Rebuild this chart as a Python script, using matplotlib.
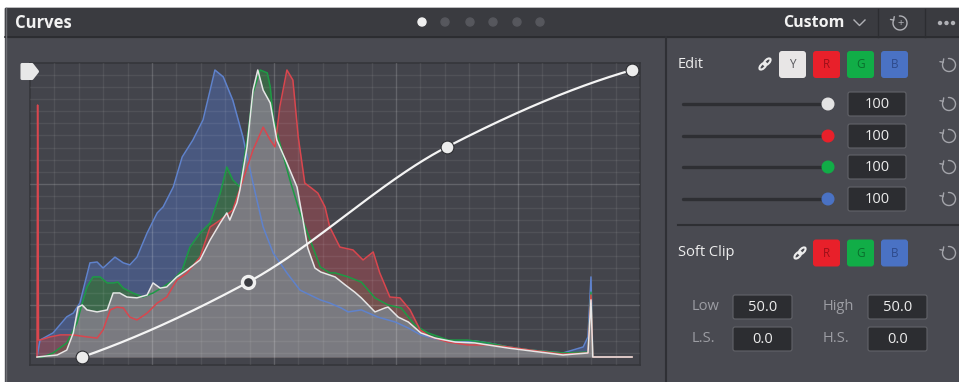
import numpy as np
import matplotlib.pyplot as plt
from matplotlib.patches import Rectangle, FancyBboxPatch, Circle, Polygon, Ellipse

plt.rcParams['font.family'] = ['Open Sans', 'DejaVu Sans']

W, H = 959, 382

# histogram traces: input level (%) and height (% of channel peak)
blue_x = [0.0, 0.5, 2.7, 5.0, 6.1, 7.2, 8.9, 10.1, 11.1, 13.1, 14.5, 15.6, 16.8, 18.5, 20.2,
          21.2, 22.9, 24.4, 26.2, 27.9, 29.1, 29.9, 31.3, 32.9, 34.6, 36.3, 38.0, 39.7, 42.0,
          44.2, 47.6, 49.2, 51.1, 52.3, 54.5, 57.3, 60.2, 62.4, 64.5, 66.9, 70.8, 73.6, 75.8,
          79.2, 82.9, 88.4, 91.8, 92.6, 93.1, 93.4, 100.0]
blue_h = [0.0, 5.9, 8.4, 14.0, 15.3, 18.8, 32.8, 33.1, 31.0, 34.8, 32.8, 32.1, 34.8, 43.2, 50.2,
          52.3, 59.2, 69.7, 75.6, 82.6, 93.0, 100.0, 97.6, 89.5, 76.7, 60.6, 45.3, 36.2, 29.3,
          23.3, 19.9, 18.8, 17.1, 15.7, 16.4, 13.9, 12.2, 10.1, 7.7, 6.3, 5.2, 5.6, 4.9,
          3.5, 2.4, 1.4, 3.5, 7.0, 27.9, 0.0, 0.0]

green_x = [0.0, 1.0, 2.7, 5.0, 6.7, 7.6, 8.4, 9.4, 10.6, 11.8, 12.8, 13.6, 14.5, 16.1, 17.8,
           19.5, 21.2, 22.9, 24.4, 25.7, 27.4, 29.1, 30.8, 31.9, 32.9, 34.1, 35.3, 36.3, 37.5,
           38.7, 39.2, 39.7, 40.8, 42.5, 44.2, 45.9, 47.6, 49.2, 50.1, 52.3, 54.5, 56.8, 59.0,
           61.2, 63.5, 65.7, 69.1, 72.4, 75.8, 79.2, 82.9, 88.4, 92.6, 93.1, 93.4, 100.0]
green_h = [0.0, 0.0, 1.4, 4.9, 11.8, 18.8, 24.4, 27.9, 27.9, 25.8, 25.8, 26.1, 24.0, 22.3, 20.9,
           22.3, 24.4, 26.8, 30.3, 38.3, 43.2, 46.7, 57.1, 66.2, 61.7, 59.2, 75.6, 92.0, 100.0,
           99.0, 94.1, 83.6, 74.6, 61.7, 50.2, 40.8, 31.4, 29.3, 29.3, 27.9, 26.1, 20.6, 18.1,
           17.1, 11.1, 8.4, 5.9, 5.9, 4.9, 3.5, 2.4, 1.4, 1.7, 22.6, 0.0, 0.0]

red_x = [0.0, 0.1, 0.25, 0.5, 2.2, 3.9, 6.1, 8.4, 10.1, 11.1, 12.3, 13.4, 14.5, 15.6, 16.8,
         18.5, 20.2, 21.8, 23.5, 25.2, 27.4, 29.1, 30.8, 32.9, 34.6, 36.3, 38.0, 39.2, 40.0,
         40.8, 42.0, 43.0, 43.9, 45.0, 46.1, 47.2, 48.4, 49.2, 50.9, 53.1, 54.8, 56.5, 57.6,
         59.3, 61.0, 62.7, 64.4, 66.1, 69.1, 72.4, 75.8, 79.2, 82.9, 88.4, 92.6, 93.1, 93.4, 100.0]
red_h = [0.0, 87.8, 5.9, 5.9, 7.0, 7.7, 7.7, 7.0, 6.6, 9.4, 16.4, 17.4, 17.1, 13.9, 12.9,
         15.3, 18.8, 20.9, 26.8, 29.3, 34.8, 45.3, 47.7, 51.2, 61.7, 72.1, 80.1, 75.6, 73.2,
         87.1, 100.0, 96.5, 76.7, 60.6, 58.9, 57.1, 52.3, 45.3, 38.3, 37.3, 33.8, 36.6, 29.3,
         20.9, 20.6, 16.4, 9.4, 7.0, 5.2, 4.2, 4.2, 3.5, 2.4, 1.0, 1.4, 21.6, 0.0, 0.0]

luma_x = [0.0, 3.4, 5.0, 6.1, 6.9, 7.6, 8.4, 10.1, 11.8, 12.8, 13.9, 15.1, 16.8, 18.5, 19.5,
          20.7, 21.8, 23.5, 25.2, 27.4, 29.1, 30.8, 31.9, 32.4, 33.6, 34.1, 35.3, 36.3, 37.1,
          38.0, 39.2, 40.3, 42.0, 43.7, 44.7, 45.5, 46.7, 47.7, 50.1, 51.8, 53.4, 54.5, 56.8,
          58.5, 59.0, 60.7, 62.4, 64.5, 66.9, 70.3, 73.6, 79.2, 88.4, 92.6, 93.1, 93.4, 100.0]
luma_h = [0.0, 0.7, 2.4, 8.4, 17.4, 18.1, 16.4, 15.7, 16.4, 22.3, 22.3, 20.9, 20.6, 21.6, 25.8,
          24.0, 24.4, 27.9, 30.3, 33.8, 40.8, 46.7, 50.2, 47.7, 53.7, 58.2, 73.2, 93.0, 100.0,
          93.0, 88.5, 75.6, 67.6, 59.2, 47.7, 38.0, 31.0, 29.6, 27.9, 25.1, 22.6, 20.6, 15.7,
          17.1, 17.4, 13.9, 12.2, 8.4, 6.6, 5.2, 4.9, 3.1, 0.7, 1.4, 19.9, 0.0, 0.0]

# curve control points (input %, output %)
curve_in = [7.6, 35.5, 68.9, 100.0]
curve_out = [0.0, 26.1, 73.2, 100.0]
selected_point = 1

edit_values = [100, 100, 100, 100]
soft_clip = {'Low': 50.0, 'High': 50.0, 'L.S.': 0.0, 'H.S.': 0.0}


def pchip(xs, ys, xq):
    # monotone cubic hermite (Fritsch-Carlson), like scipy's PchipInterpolator
    xs = np.asarray(xs, float)
    ys = np.asarray(ys, float)
    h = np.diff(xs)
    s = np.diff(ys) / h
    n = len(xs)
    d = np.zeros(n)
    for i in range(1, n - 1):
        if s[i - 1] * s[i] > 0:
            w1 = 2 * h[i] + h[i - 1]
            w2 = h[i] + 2 * h[i - 1]
            d[i] = (w1 + w2) / (w1 / s[i - 1] + w2 / s[i])
    d[0] = ((2 * h[0] + h[1]) * s[0] - h[0] * s[1]) / (h[0] + h[1])
    d[-1] = ((2 * h[-1] + h[-2]) * s[-1] - h[-1] * s[-2]) / (h[-1] + h[-2])
    out = np.zeros_like(xq)
    for i in range(n - 1):
        m = (xq >= xs[i]) & (xq <= xs[i + 1])
        t = (xq[m] - xs[i]) / h[i]
        out[m] = (ys[i] * (2 * t**3 - 3 * t**2 + 1) + h[i] * d[i] * (t**3 - 2 * t**2 + t)
                  + ys[i + 1] * (-2 * t**3 + 3 * t**2) + h[i] * d[i + 1] * (t**3 - t**2))
    return out


fig = plt.figure(figsize=(W / 100, H / 100), dpi=100)
fig.patch.set_facecolor('white')

# ---- panel chrome, drawn in pixel coordinates
ui = fig.add_axes([0, 0, 1, 1])
ui.set_xlim(0, W)
ui.set_ylim(H, 0)
ui.axis('off')

ui.add_patch(Rectangle((5, 8), W - 5, H - 8, color='#494a51'))
ui.add_patch(Rectangle((5, 8), W - 5, 29, color='#3a3b40'))
ui.plot([5, W], [37, 37], color='#2a2b2f', lw=1.2)
ui.plot([6, 6], [8, H], color='#6c6d72', lw=1)
ui.plot([666, 666], [37, H], color='#2f3035', lw=1.5)
for xd in [878, 925]:
    ui.plot([xd, xd], [9, 37], color='#2c2d31', lw=1)

ui.text(15, 23, 'Curves', color='#f2f2f2', fontsize=12, fontweight='bold', va='center')
for i, xd in enumerate([422, 445, 470, 493, 517, 540]):
    ui.add_patch(Circle((xd, 22), 4, color='#f0f0f0' if i == 0 else '#56575d'))
ui.text(845, 23, 'Custom', color='#f2f2f2', fontsize=11.5, fontweight='bold', va='center', ha='right')
ui.plot([854, 859.5, 865], [20, 25.5, 20], color='#b0b1b6', lw=1)
for xd in [940, 946.5, 953]:
    ui.add_patch(Circle((xd, 23), 1.5, color='#b0b1b6'))


def reset_icon(cx, cy, r=6.5, col='#a4a5ab'):
    # open circle with an arrow head at the upper-left end
    t = np.radians(np.linspace(155, 455, 60))
    ui.plot(cx + r * np.cos(t), cy - r * np.sin(t), color=col, lw=1.0, solid_capstyle='round')
    ex, ey = cx + r * np.cos(np.radians(155)), cy - r * np.sin(np.radians(155))
    ui.plot([ex - 3.2, ex, ex + 0.6], [ey - 0.6, ey, ey - 3.4], color=col, lw=1.0,
            solid_capstyle='round', solid_joinstyle='round')


reset_icon(900, 23, r=7, col='#b0b1b6')
ui.text(900.3, 23.3, '+', color='#b0b1b6', fontsize=8, ha='center', va='center')


def link_icon(cx, cy):
    for dx in (-2.2, 2.2):
        ui.add_patch(Ellipse((cx + dx, cy - dx), 8.5, 4.4, angle=-45, fill=False,
                             edgecolor='#ececec', lw=1.5))


def button(x0, y0, face, label, tcol):
    ui.add_patch(FancyBboxPatch((x0, y0), 27, 27, boxstyle='round,pad=0,rounding_size=3',
                                facecolor=face, edgecolor='none'))
    ui.text(x0 + 13.5, y0 + 14, label, color=tcol, fontsize=8.5, ha='center', va='center')


def value_box(x0, y0, w, h, txt):
    ui.add_patch(FancyBboxPatch((x0, y0), w, h, boxstyle='round,pad=0,rounding_size=2',
                                facecolor='#2c2d31', edgecolor='#626369', lw=0.8))
    ui.text(x0 + w / 2, y0 + h / 2 + 0.5, txt, color='#ededed', fontsize=10.5,
            ha='center', va='center')


# Edit section
ui.text(678, 65, 'Edit', color='#ededed', fontsize=10.5, va='center')
link_icon(765, 64)
btn_cols = {'R': ('#e8202a', '#9c1018'), 'G': ('#11ad47', '#0a6e2c'), 'B': ('#4a72c4', '#2e4a8a')}
button(779, 51, '#e8e6e6', 'Y', '#555559')
for bx, key in zip([813, 847, 881], ['R', 'G', 'B']):
    button(bx, 51, btn_cols[key][0], key, btn_cols[key][1])
reset_icon(949, 65)

knob_cols = ['#e4e4e4', '#e8202a', '#11ad47', '#4a72c4']
row_y = [104, 136, 167, 199]
for yy, kc, val in zip(row_y, knob_cols, edit_values):
    ui.plot([683, 826], [yy, yy], color='#2e2f33', lw=2.4, solid_capstyle='round')
    ui.add_patch(Circle((828, yy), 5.8, color=kc, zorder=4))
    value_box(848, yy - 12, 58, 24, str(val))
    reset_icon(949, yy)

ui.plot([678, W], [225, 225], color='#2e2f33', lw=1.5)

# Soft clip section
ui.text(678, 253, 'Soft Clip', color='#ededed', fontsize=10.5, va='center')
link_icon(800, 253)
for bx, key in zip([813, 847, 881], ['R', 'G', 'B']):
    button(bx, 239.5, btn_cols[key][0], key, btn_cols[key][1])
reset_icon(949, 253)

for (lab, val), (lx, bx, yy) in zip(soft_clip.items(),
                                   [(692, 733, 307), (823, 868, 307), (692, 733, 339), (823, 868, 339)]):
    ui.text(lx, yy, lab, color='#9c9da3', fontsize=10.5, va='center')
    value_box(bx, yy - 12, 59, 24, f'{val:.1f}')

# ---- curve / histogram graph
ax = fig.add_axes([30 / W, (H - 365) / H, 610 / W, 302 / H])
x0, x1 = -1.18, 101.34
y0, y1 = -2.79, 102.44
ax.set_xlim(x0, x1)
ax.set_ylim(y0, y1)
ax.set_facecolor('#43444b')
for s in ax.spines.values():
    s.set_color('#35363b')
    s.set_linewidth(1.2)
ax.set_xticks([])
ax.set_yticks([])

ax.fill_between(blue_x, blue_h, color='#4a5a82', alpha=0.95, lw=0, zorder=1)
ax.fill_between(green_x, green_h, color='#3b6a46', alpha=0.9, lw=0, zorder=2)
ax.fill_between(red_x, red_h, color='#884a52', alpha=0.75, lw=0, zorder=3)
ax.fill_between(luma_x, luma_h, color='#7b7c83', alpha=0.96, lw=0, zorder=4)

for k in range(1, 25):
    xk = x0 + k * (x1 - x0) / 25
    ax.axvline(xk, color='white', alpha=0.17 if k % 5 == 0 else 0.07, lw=1, zorder=5)
    yk = y1 - k * (y1 - y0) / 25
    ax.axhline(yk, color='white', alpha=0.17 if k % 10 == 0 else 0.07, lw=1, zorder=5)

ax.plot(blue_x, blue_h, color='#5f82cc', lw=1.1, zorder=6)
ax.plot(green_x, green_h, color='#1c9b44', lw=1.1, zorder=7)
ax.plot(red_x, red_h, color='#d9464e', lw=1.1, zorder=8)
ax.plot(luma_x, luma_h, color='#e6e6e6', lw=1.1, zorder=9)

xs = np.linspace(curve_in[0], curve_in[-1], 400)
ax.plot(xs, pchip(curve_in, curve_out, xs), color='#f4f4f4', lw=1.6, zorder=10)
for i, (cx, cy) in enumerate(zip(curve_in, curve_out)):
    if i == selected_point:
        ax.scatter(cx, cy, s=75, facecolor='#3b3c42', edgecolor='#f0f0f0', linewidth=2.4, zorder=11)
    else:
        ax.scatter(cx, cy, s=85, facecolor='#ececec', edgecolor='#2e2f33', linewidth=0.8, zorder=11)

# tag marker on top-left corner of the graph
top = fig.add_axes([0, 0, 1, 1], zorder=5)
top.set_xlim(0, W)
top.set_ylim(H, 0)
top.axis('off')
top.add_patch(Polygon([[22, 64.5], [32, 64.5], [37.5, 71.5], [32, 78.5], [22, 78.5]], closed=True,
                      facecolor='#e8e8e8', edgecolor='#e8e8e8', lw=2.2, joinstyle='round'))

fig.savefig('out.png', dpi=100, facecolor=fig.get_facecolor())
